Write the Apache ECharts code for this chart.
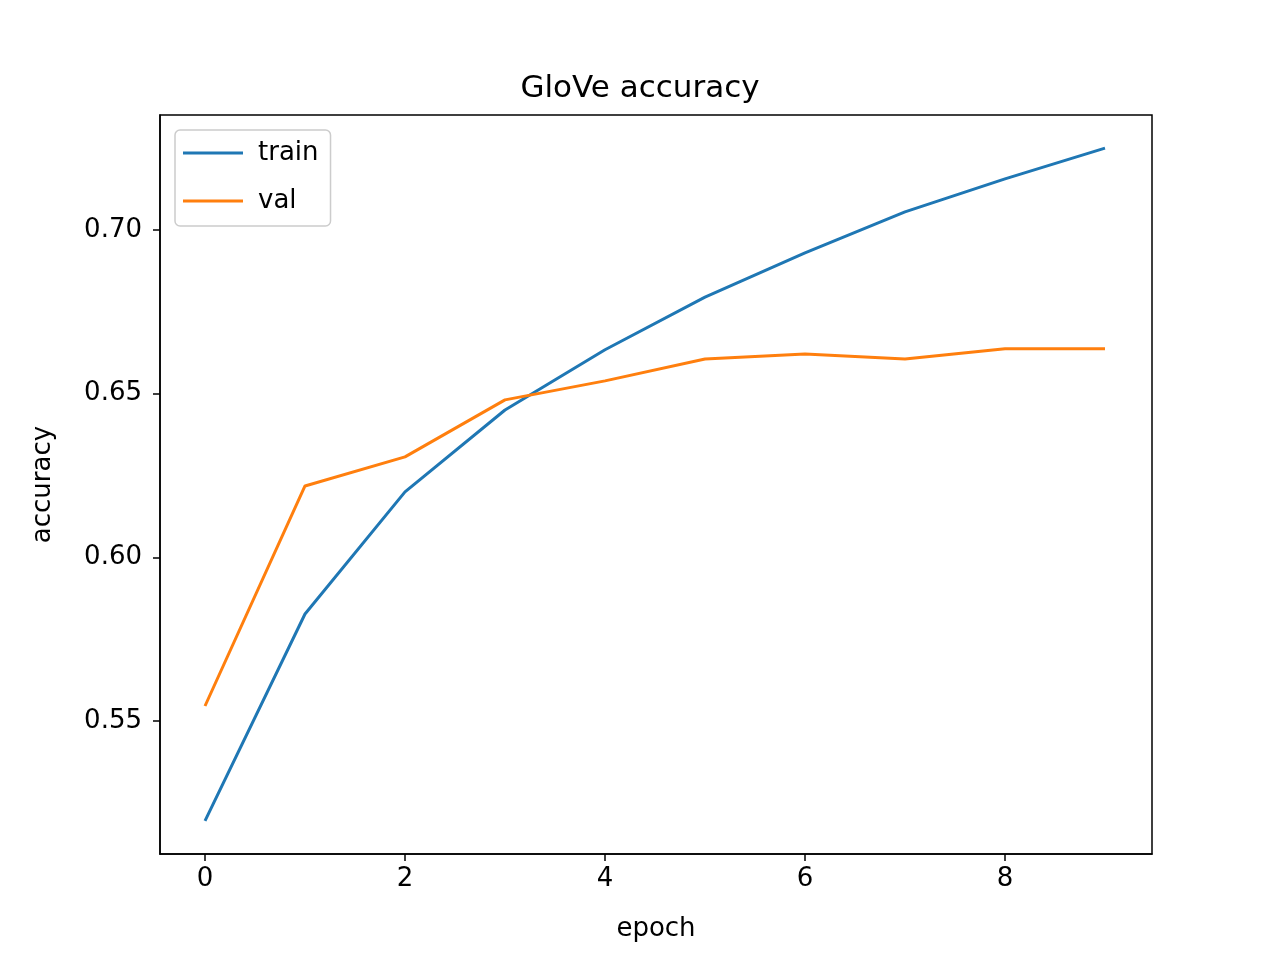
<!DOCTYPE html>
<html lang="en">
  <head>
    <meta charset="UTF-8" />
    <title>GloVe accuracy</title>
    <script src="https://cdn.jsdelivr.net/npm/echarts@6/dist/echarts.min.js"></script>
    <style>
      * { margin: 0; padding: 0; }
      body { background: #fff; }
    </style>
  </head>
  <body>
    <div id="main" style="width: 1280px; height: 960px"></div>
    <script>
      var epochs = [0, 1, 2, 3, 4, 5, 6, 7, 8, 9];
      var train = [0.5195, 0.5827, 0.62, 0.645, 0.6634, 0.6795, 0.693, 0.7055, 0.7156, 0.725];
      var val = [0.5546, 0.6218, 0.6307, 0.6481, 0.6539, 0.6606, 0.6621, 0.6606, 0.6637, 0.6637];

      function pairs(ys) {
        return epochs.map(function (x, i) { return [x, ys[i]]; });
      }

      var font = 'DejaVu Sans';
      var chart = echarts.init(document.getElementById('main'));
      chart.setOption({
        animation: false,
        textStyle: { fontFamily: font },
        title: {
          text: 'GloVe accuracy',
          left: 'center',
          top: 68,
          textStyle: { fontFamily: font, fontSize: 31, fontWeight: 'normal', color: '#000' }
        },
        legend: {
          left: 175,
          top: 130,
          orient: 'vertical',
          itemWidth: 60,
          itemHeight: 3,
          itemGap: 22,
          padding: [10, 12, 12, 8],
          borderColor: '#ccc',
          borderWidth: 1.5,
          borderRadius: 5,
          icon: 'rect',
          textStyle: { fontFamily: font, fontSize: 26, color: '#000', padding: [0, 0, 0, 10] },
          data: ['train', 'val']
        },
        grid: { left: 160, right: 128, top: 115, bottom: 106 },
        xAxis: {
          type: 'value',
          min: -0.45,
          max: 9.47,
          splitNumber: 5,
          name: 'epoch',
          nameLocation: 'middle',
          nameGap: 62,
          nameTextStyle: { fontFamily: font, fontSize: 26, color: '#000' },
          axisLine: { show: true, onZero: false, lineStyle: { color: '#000', width: 1.5 } },
          axisTick: { show: true, length: 7, lineStyle: { color: '#000', width: 1.5 } },
          axisLabel: { showMinLabel: false, showMaxLabel: false, fontSize: 26, color: '#000', margin: 12 },
          splitLine: { show: false }
        },
        yAxis: {
          type: 'value',
          min: 0.5094,
          max: 0.7351,
          splitNumber: 5,
          name: 'accuracy',
          nameLocation: 'middle',
          nameGap: 104,
          nameTextStyle: { fontFamily: font, fontSize: 26, color: '#000' },
          axisLine: { show: true, onZero: false, lineStyle: { color: '#000', width: 1.5 } },
          axisTick: { show: true, length: 7, lineStyle: { color: '#000', width: 1.5 } },
          axisLabel: {
            showMinLabel: false, showMaxLabel: false, fontSize: 26, color: '#000', margin: 18,
            formatter: function (v) { return v.toFixed(2); }
          },
          splitLine: { show: false }
        },
        series: [
          {
            name: 'train', type: 'line', data: pairs(train), showSymbol: false,
            color: '#1f77b4', lineStyle: { width: 3 }
          },
          {
            name: 'val', type: 'line', data: pairs(val), showSymbol: false,
            color: '#ff7f0e', lineStyle: { width: 3 }
          }
        ],
        graphic: [{
          type: 'rect',
          shape: { x: 160, y: 115, width: 992, height: 739 },
          style: { fill: 'none', stroke: '#000', lineWidth: 1.5 },
          silent: true
        }]
      });
    </script>
  </body>
</html>
